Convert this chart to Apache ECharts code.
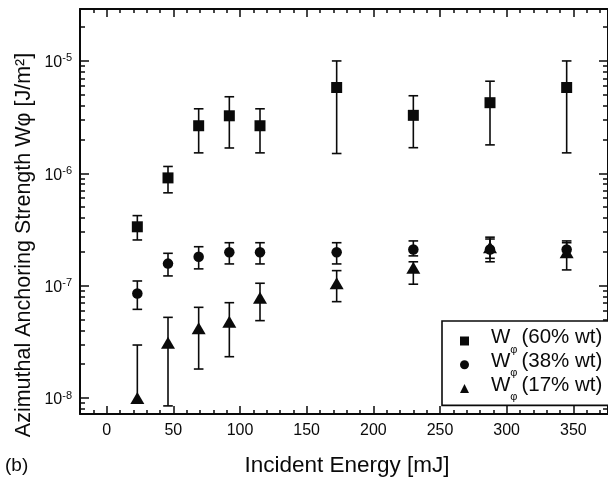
<!DOCTYPE html>
<html><head><meta charset="utf-8">
<script src="https://cdn.jsdelivr.net/npm/echarts@6/dist/echarts.min.js"></script>
<style>html,body{margin:0;padding:0;background:#fff}#c{width:608px;height:478px}</style>
</head><body><div id="c"></div>
<script>
// ---- data ----
const energies = [23, 46, 69, 92, 115, 172.5, 230, 287.5, 345];

const w60    = [3.34e-7, 9.1e-7, 2.65e-6, 3.25e-6, 2.65e-6, 5.8e-6, 3.28e-6, 4.25e-6, 5.8e-6];
const w60Hi  = [4.2e-7, 1.15e-6, 3.75e-6, 4.8e-6, 3.75e-6, 1.0e-5, 4.9e-6, 6.6e-6, 1.0e-5];
const w60Lo  = [2.55e-7, 6.7e-7, 1.52e-6, 1.68e-6, 1.52e-6, 1.5e-6, 1.69e-6, 1.79e-6, 1.52e-6];

const w38    = [8.5e-8, 1.57e-7, 1.81e-7, 1.98e-7, 1.98e-7, 1.98e-7, 2.1e-7, 2.1e-7, 2.1e-7];
const w38Hi  = [1.1e-7, 1.94e-7, 2.22e-7, 2.41e-7, 2.41e-7, 2.41e-7, 2.5e-7, 2.6e-7, 2.5e-7];
const w38Lo  = [6.15e-8, 1.22e-7, 1.41e-7, 1.56e-7, 1.56e-7, 1.56e-7, 1.84e-7, 1.75e-7, 1.8e-7];

const w17    = [1.0e-8, 3.1e-8, 4.17e-8, 4.77e-8, 7.8e-8, 1.05e-7, 1.44e-7, 2.2e-7, 1.98e-7];
const w17Hi  = [2.96e-8, 5.22e-8, 6.41e-8, 7.05e-8, 1.05e-7, 1.36e-7, 1.63e-7, 2.7e-7, 2.41e-7];
const w17Lo  = [null, 8.5e-9, 1.81e-8, 2.33e-8, 4.88e-8, 7.2e-8, 1.03e-7, 1.63e-7, 1.38e-7];

const seriesNames = ['W60', 'W38', 'W17'];
const legendLabels = ['(60% wt)', '(38% wt)', '(17% wt)'];

const xTickLabels = [0, 50, 100, 150, 200, 250, 300, 350];
const xMinorTicks = [-20,-10,0,10,20,30,40,50,60,70,80,90,100,110,120,130,140,150,160,170,180,190,200,210,220,230,240,250,260,270,280,290,300,310,320,330,340,350,360,370];
const yTickLabels = [1e-8, 1e-7, 1e-6, 1e-5];
const yMinorMultipliers = [2, 3, 4, 5, 6, 7, 8, 9];
const yDecades = [1e-9, 1e-8, 1e-7, 1e-6, 1e-5];

const X_MIN = -20, X_MAX = 376;
const Y_MIN = 7.2e-9, Y_MAX = 2.9e-5;

// ---- build ----
const yMinorTicks = [];
yDecades.forEach(d => yMinorMultipliers.forEach(m => {
  const v = m * d;
  if (v > Y_MIN && v < Y_MAX) yMinorTicks.push(v);
}));

const FONT = 'Liberation Sans, Arial, sans-serif';
const INK = '#0a0a0a';

function rows(x, y, lo, hi) {
  return x.map((e, i) => [e, y[i], lo[i] == null ? y[i] : lo[i], hi[i]]);
}

function errRender(params, api) {
  const x = api.value(0), y = api.value(1), lo = api.value(2), hi = api.value(3);
  const pHi = api.coord([x, hi]);
  const pLo = api.coord([x, lo]);
  const pC = api.coord([x, y]);
  const cap = 4.8;
  const st = { stroke: INK, lineWidth: 1.6 };
  const children = [
    { type: 'line', shape: { x1: pHi[0], y1: pHi[1], x2: pLo[0], y2: pLo[1] }, style: st },
    { type: 'line', shape: { x1: pHi[0] - cap, y1: pHi[1], x2: pHi[0] + cap, y2: pHi[1] }, style: st }
  ];
  if (Math.abs(pLo[1] - pC[1]) > 1) {
    children.push({ type: 'line', shape: { x1: pLo[0] - cap, y1: pLo[1], x2: pLo[0] + cap, y2: pLo[1] }, style: st });
  }
  return { type: 'group', children };
}

function xAxisDef(pos, ticks, len, showLine, showLabel) {
  return {
    type: 'value', min: X_MIN, max: X_MAX, position: pos,
    axisLine: { show: showLine, onZero: false, lineStyle: { color: INK, width: 2 } },
    axisTick: { show: true, inside: true, length: len, customValues: ticks, lineStyle: { color: INK, width: 1.5 } },
    axisLabel: showLabel ? { show: true, customValues: xTickLabels, fontSize: 16, margin: 9, color: INK, fontFamily: FONT } : { show: false },
    splitLine: { show: false }
  };
}
function yAxisDef(pos, ticks, len, showLine, showLabel) {
  return {
    type: 'log', logBase: 10, min: Y_MIN, max: Y_MAX, position: pos,
    axisLine: { show: showLine, onZero: false, lineStyle: { color: INK, width: 2 } },
    axisTick: { show: true, inside: true, length: len, customValues: ticks, lineStyle: { color: INK, width: 1.5 } },
    axisLabel: showLabel ? {
      show: true, customValues: yTickLabels, margin: 8, color: INK, fontFamily: FONT,
      padding: [4, 0, 0, 0],
      formatter: v => '{b|10}{s|' + Math.round(Math.log10(v)) + '}',
      rich: {
        b: { fontSize: 16, fontFamily: FONT, color: INK, lineHeight: 20, verticalAlign: 'middle' },
        s: { fontSize: 11, fontFamily: FONT, color: INK, lineHeight: 10, verticalAlign: 'top' }
      }
    } : { show: false },
    splitLine: { show: false }
  };
}

const groups = [
  { name: seriesNames[0], sym: 'rect', size: 11, rows: rows(energies, w60, w60Lo, w60Hi), y: w60 },
  { name: seriesNames[1], sym: 'circle', size: 10.5, rows: rows(energies, w38, w38Lo, w38Hi), y: w38 },
  { name: seriesNames[2], sym: 'triangle', size: [14, 12], rows: rows(energies, w17, w17Lo, w17Hi), y: w17 }
];

const series = [];
groups.forEach(g => {
  series.push({
    type: 'custom', renderItem: errRender, data: g.rows, z: 2, silent: true,
    encode: { x: 0, y: 1 }, xAxisIndex: 0, yAxisIndex: 0
  });
});
groups.forEach(g => {
  series.push({
    type: 'scatter', name: g.name, symbol: g.sym, symbolSize: g.size, z: 5,
    data: energies.map((e, i) => [e, g.y[i]]),
    itemStyle: { color: INK, opacity: 1 }, xAxisIndex: 0, yAxisIndex: 0
  });
});

const chart = echarts.init(document.getElementById('c'), null, { renderer: 'canvas' });
chart.setOption({
  backgroundColor: '#fff',
  animation: false,
  grid: { left: 80, top: 9, right: 0, bottom: 64, containLabel: false },
  xAxis: [
    xAxisDef('bottom', xTickLabels, 8, true, true),
    xAxisDef('bottom', xMinorTicks, 4, false, false),
    xAxisDef('top', xTickLabels, 8, true, false),
    xAxisDef('top', xMinorTicks, 4, false, false)
  ],
  yAxis: [
    yAxisDef('left', yTickLabels, 9, true, true),
    yAxisDef('left', yMinorTicks, 5, false, false),
    yAxisDef('right', yTickLabels, 9, true, false),
    yAxisDef('right', yMinorTicks, 5, false, false)
  ],
  legend: {
    data: seriesNames, orient: 'vertical', left: 442, top: 321,
    borderColor: INK, borderWidth: 1.6, backgroundColor: '#fff',
    padding: [6, 40, 3, 18], itemGap: -4.3, itemWidth: 9, itemHeight: 9,
    selectedMode: false,
    formatter: name => '{w|W}{p|φ}{t|' + legendLabels[seriesNames.indexOf(name)] + '}',
    textStyle: {
      color: INK, fontFamily: FONT, fontSize: 20.5,
      rich: {
        w: { fontSize: 20.5, fontFamily: FONT, color: INK, lineHeight: 28, verticalAlign: 'top', padding: [0, 0, 0, 17] },
        p: { fontSize: 11, fontFamily: FONT, color: INK, lineHeight: 12, verticalAlign: 'bottom' },
        t: { fontSize: 20.5, fontFamily: FONT, color: INK, lineHeight: 28, verticalAlign: 'top', padding: [0, 0, 0, 4] }
      }
    }
  },
  graphic: [
    { type: 'text', x: 24, y: 245, rotation: Math.PI / 2,
      style: { text: 'Azimuthal Anchoring Strength Wφ [J/m²]', fill: INK, font: '21.5px ' + FONT, align: 'center', verticalAlign: 'middle', textAlign: 'center', textVerticalAlign: 'middle' } },
    { type: 'text', x: 347, y: 466,
      style: { text: 'Incident Energy [mJ]', fill: INK, font: '22.5px ' + FONT, align: 'center', verticalAlign: 'middle', textAlign: 'center', textVerticalAlign: 'middle' } },
    { type: 'text', x: 5, y: 466,
      style: { text: '(b)', fill: INK, font: '19px ' + FONT, align: 'left', verticalAlign: 'middle', textAlign: 'left', textVerticalAlign: 'middle' } }
  ],
  series
});
</script>
</body></html>
